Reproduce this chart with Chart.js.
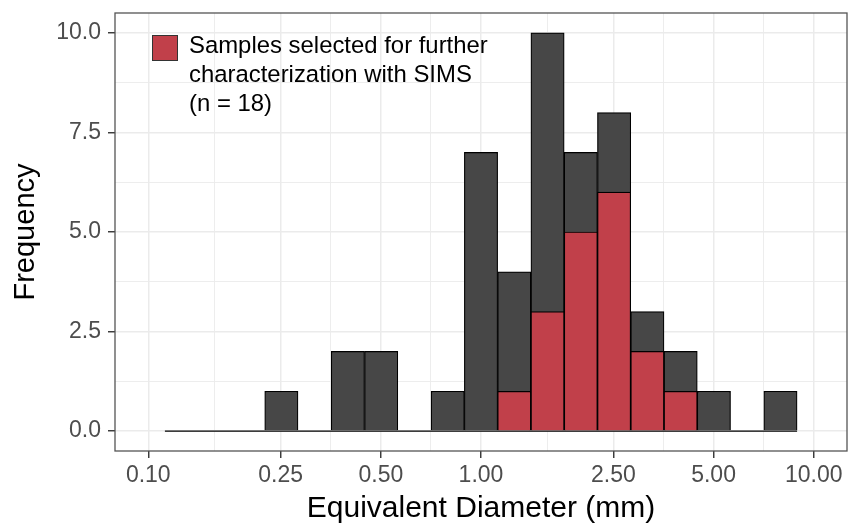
<!DOCTYPE html>
<html>
<head>
<meta charset="utf-8">
<script src="https://cdn.jsdelivr.net/npm/chart.js@4.4.0/dist/chart.umd.min.js"></script>
<style>
  html, body { margin: 0; padding: 0; background: #fff; }
</style>
</head>
<body>
<canvas id="myChart" width="849" height="525"></canvas>
<script>
// bin centres in log10(mm), bins are 0.1 wide in log space
var binCenters = [-0.9, -0.8, -0.7, -0.6, -0.5, -0.4, -0.3, -0.2, -0.1, 0.0, 0.1, 0.2, 0.3, 0.4, 0.5, 0.6, 0.7, 0.8, 0.9];
var allCounts  = [0, 0, 0, 1, 0, 2, 2, 0, 1, 7, 4, 10, 7, 8, 3, 2, 1, 0, 1];
var simsCounts = [0, 0, 0, 0, 0, 0, 0, 0, 0, 0, 1, 3, 5, 6, 2, 1, 0, 0, 0];
var binWidth = 0.1;

var xTickValues = [0.1, 0.25, 0.5, 1, 2.5, 5, 10];
var xTickLabels = ['0.10', '0.25', '0.50', '1.00', '2.50', '5.00', '10.00'];
var yTickValues = [0, 2.5, 5, 7.5, 10];
var yTickLabels = ['0.0', '2.5', '5.0', '7.5', '10.0'];

var legendLines = ['Samples selected for further', 'characterization with SIMS', '(n = 18)'];

var FONT = "'Liberation Sans', Arial, Helvetica, sans-serif";
var GREY_BAR = '#474747';
var RED_BAR = '#C1404A';

var xMajor = xTickValues.map(function (v) { return Math.log10(v); });

// major + minor (midway) positions
var withMinor = function (major) {
  var out = [];
  for (var i = 0; i < major.length; i++) {
    out.push(major[i]);
    if (i < major.length - 1) out.push((major[i] + major[i + 1]) / 2);
  }
  return out;
};

var isMajor = function (list, v) {
  for (var i = 0; i < list.length; i++) {
    if (Math.abs(list[i] - v) < 1e-6) return i;
  }
  return -1;
};

var toPoints = function (counts) {
  return binCenters.map(function (c, i) { return { x: c, y: counts[i] }; });
};

var gridOpts = function (majors) {
  return {
    offset: false,
    color: '#EBEBEB',
    lineWidth: function (ctx) {
      if (!ctx.tick) return 1;
      return isMajor(majors, ctx.tick.value) >= 0 ? 1.5 : 0.9;
    },
    tickColor: function (ctx) {
      if (!ctx.tick) return '#333';
      return isMajor(majors, ctx.tick.value) >= 0 ? '#333333' : 'rgba(0,0,0,0)';
    },
    tickLength: 7,
    tickWidth: 1.4
  };
};

var panelPlugin = {
  id: 'panel',
  afterDraw: function (chart) {
    var c = chart.ctx, a = chart.chartArea;
    c.save();
    c.strokeStyle = '#555555';
    c.lineWidth = 1.3;
    c.strokeRect(a.left, a.top, a.right - a.left, a.bottom - a.top);

    // legend inside the panel
    c.fillStyle = RED_BAR;
    c.fillRect(152, 35, 26, 26);
    c.strokeStyle = '#333333';
    c.lineWidth = 1;
    c.strokeRect(152.5, 35.5, 25, 25);
    c.fillStyle = '#000';
    c.font = '23.9px ' + FONT;
    c.textBaseline = 'alphabetic';
    c.textAlign = 'left';
    for (var i = 0; i < legendLines.length; i++) {
      c.fillText(legendLines[i], 189, 53 + i * 29);
    }
    c.restore();
  }
};

var ctx = document.getElementById('myChart').getContext('2d');
var myChart = new Chart(ctx, {
  type: 'bar',
  data: {
    datasets: [{
      label: 'SIMS',
      data: toPoints(simsCounts),
      backgroundColor: RED_BAR,
      borderColor: '#000',
      borderWidth: 1.2,
      grouped: false,
      barPercentage: 1,
      categoryPercentage: 1
    }, {
      label: 'All',
      data: toPoints(allCounts),
      backgroundColor: GREY_BAR,
      borderColor: '#000',
      borderWidth: 1.2,
      grouped: false,
      barPercentage: 1,
      categoryPercentage: 1
    }, {
      type: 'line',
      label: 'base',
      data: [
        { x: binCenters[0] - binWidth / 2, y: 0 },
        { x: binCenters[binCenters.length - 1] + binWidth / 2, y: 0 }
      ],
      borderColor: '#000',
      borderWidth: 1.2,
      pointRadius: 0
    }]
  },
  options: {
    responsive: false,
    animation: false,
    devicePixelRatio: 1,
    layout: { padding: { top: 13, right: 2, left: 0, bottom: 0 } },
    plugins: {
      legend: { display: false },
      tooltip: { enabled: false }
    },
    scales: {
      x: {
        type: 'linear',
        offset: false,
        min: -1.1,
        max: 1.1,
        afterBuildTicks: function (axis) {
          axis.ticks = withMinor(xMajor).map(function (v) { return { value: v }; });
        },
        afterFit: function (axis) {
          axis.height = 74;
          axis.paddingLeft = 0;
          axis.paddingRight = 0;
        },
        ticks: {
          autoSkip: false,
          maxRotation: 0,
          padding: 4,
          color: '#4D4D4D',
          font: { family: FONT, size: 23 },
          callback: function (v) {
            var i = isMajor(xMajor, v);
            return i >= 0 ? xTickLabels[i] : '';
          }
        },
        grid: gridOpts(xMajor),
        border: { display: false },
        title: {
          display: true,
          text: 'Equivalent Diameter (mm)',
          color: '#000',
          font: { family: FONT, size: 30, lineHeight: 1 },
          padding: { top: 0, bottom: 1 }
        }
      },
      y: {
        min: -0.5,
        max: 10.5,
        afterBuildTicks: function (axis) {
          axis.ticks = withMinor(yTickValues).map(function (v) { return { value: v }; });
        },
        afterFit: function (axis) {
          axis.width = 115;
          axis.paddingTop = 0;
          axis.paddingBottom = 0;
        },
        ticks: {
          autoSkip: false,
          padding: 7,
          color: '#4D4D4D',
          font: { family: FONT, size: 23 },
          callback: function (v) {
            var i = isMajor(yTickValues, v);
            return i >= 0 ? yTickLabels[i] : '';
          }
        },
        grid: gridOpts(yTickValues),
        border: { display: false },
        title: {
          display: true,
          text: 'Frequency',
          color: '#000',
          font: { family: FONT, size: 29, lineHeight: 1 },
          padding: { top: 11, bottom: 0 }
        }
      }
    }
  },
  plugins: [panelPlugin]
});
</script>
</body>
</html>
